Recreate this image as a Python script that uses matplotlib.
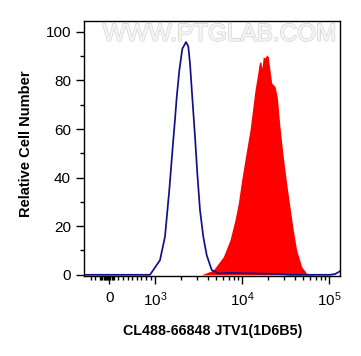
import numpy as np
import matplotlib
matplotlib.use('Agg')
import matplotlib.pyplot as plt
import matplotlib.patheffects as pe

plt.rcParams['font.family'] = ['Liberation Sans', 'DejaVu Sans']
plt.rcParams['mathtext.fontset'] = 'custom'
plt.rcParams['mathtext.rm'] = 'Liberation Sans'
plt.rcParams['mathtext.default'] = 'regular'

# control (isotype) histogram, blue outline
ctrl_x = [-543, 0, 885, 1132, 1293, 1449, 1610, 1683, 1762, 1888, 2043, 2254,
          2395, 2506, 2663, 2860, 3040, 3264, 3562, 3898, 4450, 5300, 7220,
          15960, 27100, 35300, 101900, 116400, 133700]
ctrl_y = [0, 0, 0, 6, 15.7, 34.9, 55.5, 63.7, 73, 84, 93, 95.8,
          94, 87, 73, 57, 41.8, 26.7, 15.7, 8.1, 2, 0.6, 0.8,
          0.5, 0.3, 0, 0, 0.3, 1.5]

# stained sample histogram, red fill
stain_x = [3412, 3562, 4640, 6050, 7220, 8240, 8995, 9843, 10740, 11730, 12270,
           12830, 14000, 14870, 15680, 16270, 16840, 17430, 18230, 19060, 19900,
           20800, 21780, 23770, 25240, 27100, 29580, 32340, 35300, 38550, 42170,
           48170, 54950, 65460]
stain_y = [0, 0.3, 1.9, 7.4, 14.3, 22.5, 29.4, 39, 47.3, 55.5, 59.6,
           65.1, 76, 81.6, 87.1, 87.8, 85, 89.8, 89.2, 90.5, 89.8,
           84.3, 78.9, 77.5, 73.3, 61, 48.6, 37.7, 28, 18.4, 10.2,
           3.3, 0.6, 0]

xticks = [0, 1e3, 1e4, 1e5]
xticklabels = ['0', '$10^{3}$', '$10^{4}$', '$10^{5}$']
yticks = [0, 20, 40, 60, 80, 100]

fig = plt.figure(figsize=(3.61, 3.56), dpi=100)
ax = fig.add_axes([0.2335, 0.2247, 0.709, 0.7172])

ax.fill_between(stain_x, stain_y, 0, color='#ff0000', linewidth=0)
ax.plot(ctrl_x, ctrl_y, color='#10108a', linewidth=1.25, solid_joinstyle='round')

ax.set_xscale('symlog', linthresh=1000, linscale=0.476)
ax.set_xlim(-543, 133700)
ax.set_ylim(-0.5, 104.6)

minor_x = [-400, -300] + list(range(-200, 125, 25)) + list(range(200, 1000, 100))
for k in (3, 4):
    minor_x += [m * 10 ** k for m in range(2, 10)]
ax.set_xticks(xticks)
ax.set_xticklabels(xticklabels)
ax.set_xticks(minor_x, minor=True)
ax.set_yticks(yticks)
ax.set_yticks([10, 30, 50, 70, 90], minor=True)

ax.tick_params(which='major', direction='out', length=5.5, width=1, labelsize=11,
               colors='black', pad=4)
ax.tick_params(which='minor', direction='out', length=3, width=1)
ax.tick_params(axis='x', which='major', pad=5)
for s in ax.spines.values():
    s.set_linewidth(1)

ax.set_ylabel('Relative Cell Number', fontsize=10.5, fontweight='bold')
ax.yaxis.set_label_coords(-0.2, 0.52)
ax.set_xlabel('CL488-66848 JTV1(1D6B5)', fontsize=10.3, fontweight='bold', labelpad=11)

wm = ax.text(0.527, 0.945, 'WWW.PTGLAB.COM', transform=ax.transAxes,
             ha='center', va='center', fontsize=17.5, color='#f4f4f4')
wm.set_path_effects([pe.withStroke(linewidth=1.2, foreground='#d6d6d6'), pe.Normal()])

fig.savefig('out.png', dpi=100)
